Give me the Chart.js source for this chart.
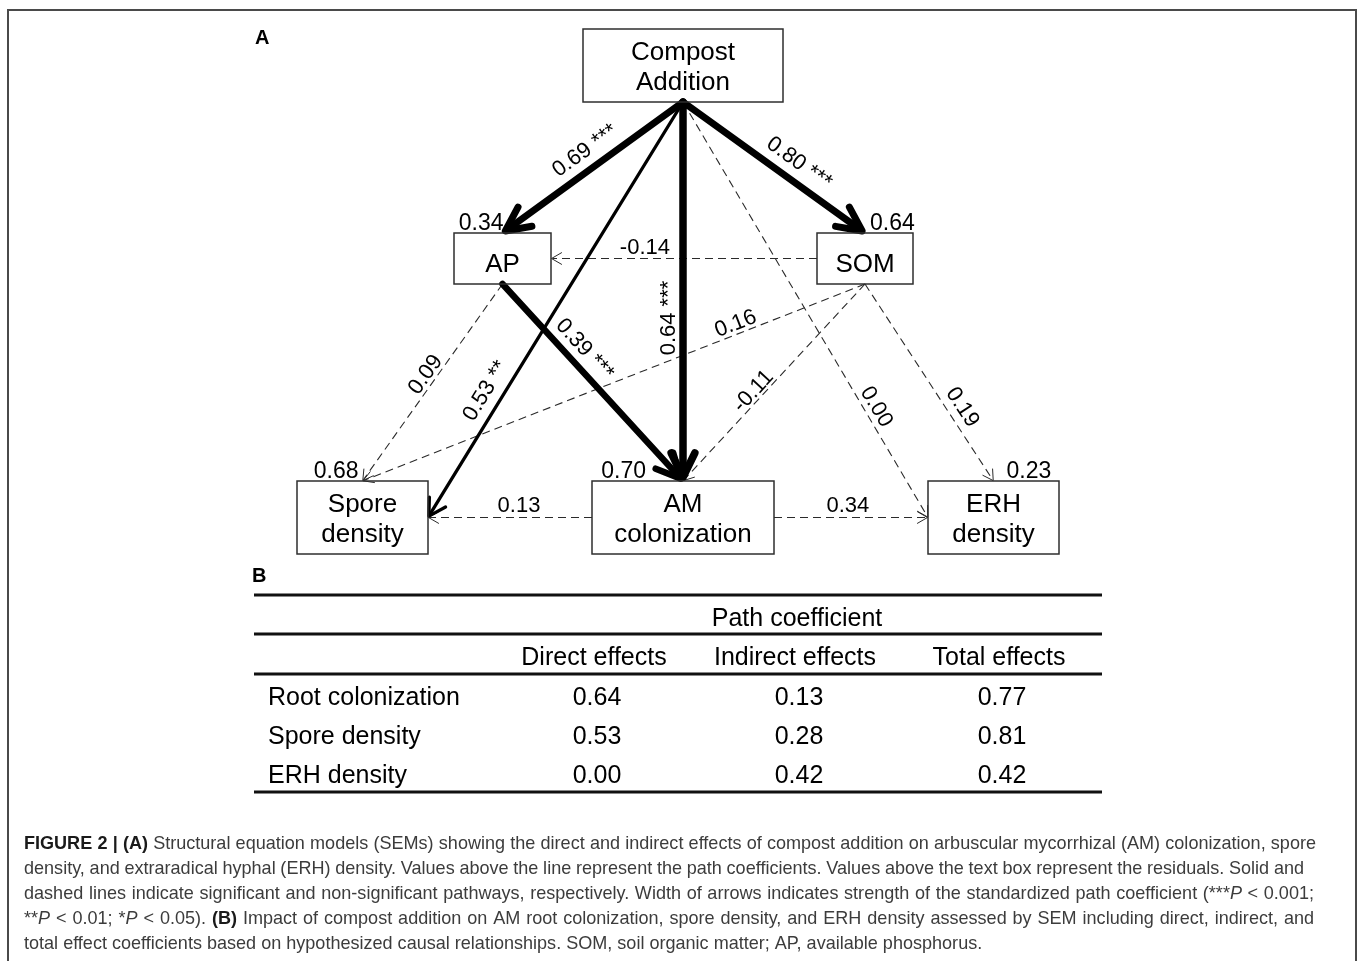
<!DOCTYPE html>
<html>
<head>
<meta charset="utf-8">
<script src="https://cdn.jsdelivr.net/npm/chart.js@4.4.1/dist/chart.umd.min.js"></script>
<style>
  html, body { margin: 0; padding: 0; background: #fff; }
  #wrap { position: relative; width: 1358px; height: 961px; overflow: hidden; }
  canvas { display: block; }
</style>
</head>
<body>
<div id="wrap"><canvas id="c" width="1358" height="961"></canvas></div>
<script>
// ---- Panel A: structural equation model ----
const nodeNames = ['Compost\nAddition', 'AP', 'SOM', 'Spore\ndensity', 'AM\ncolonization', 'ERH\ndensity'];
const nodeResiduals = [null, 0.34, 0.64, 0.68, 0.70, 0.23];

// paths: source node -> target node, standardized coefficient, significance stars
const pathFrom = [0, 0, 0, 0, 0, 2, 1, 1, 2, 2, 2, 4, 4];
const pathTo   = [1, 2, 4, 3, 5, 1, 4, 3, 3, 4, 5, 3, 5];
const pathCoef = [0.69, 0.80, 0.64, 0.53, 0.00, -0.14, 0.39, 0.09, 0.16, -0.11, 0.19, 0.13, 0.34];
const pathSig  = ['***', '***', '***', '**', '', '', '***', '', '', '', '', '', ''];

// ---- Panel B: effect table ----
const effectHeader = 'Path coefficient';
const effectColumns = ['Direct effects', 'Indirect effects', 'Total effects'];
const effectRows = ['Root colonization', 'Spore density', 'ERH density'];
const directEffects = [0.64, 0.53, 0.00];
const indirectEffects = [0.13, 0.28, 0.42];
const totalEffects = [0.77, 0.81, 0.42];

// ---- Layout (diagram units map 1:1 onto the hidden linear scales) ----
const nodeLayout = [
  { x: 683,   y: 65.5,  w: 200, h: 73 },
  { x: 502.5, y: 258.5, w: 97,  h: 51 },
  { x: 865,   y: 258.5, w: 96,  h: 51 },
  { x: 362.5, y: 517.5, w: 131, h: 73 },
  { x: 683,   y: 517.5, w: 182, h: 73 },
  { x: 993.5, y: 517.5, w: 131, h: 73 }
];
const residualLayout = [null,
  { align: 'right', dx: 1 }, { align: 'left', dx: 5 }, { align: 'right', dx: -4 },
  { align: 'right', dx: -37 }, { align: 'left', dx: 13 }];
const pathSides = [
  ['bottom', 'top'], ['bottom', 'top'], ['bottom', 'top'], ['bottom', 'right'], ['bottom', 'left'],
  ['left', 'right'], ['bottom', 'top'], ['bottom', 'top'], ['bottom', 'top'], ['bottom', 'top'],
  ['bottom', 'top'], ['left', 'right'], ['right', 'left']];
// label position: fraction along the path, distance from the line
const labelPlace = [[0.484, 20], [0.58, 20], [0.57, 16], [0.717, 19], [0.748, 13.5], [0.647, 12.5],
  [0.388, 18.3], [0.49, 12], [0.25, 12], [0.576, 11], [0.665, 16], [0.445, 13.5], [0.48, 13.5]];
const pathWidth = [7, 7, 7.5, 3.3, 1.1, 1.1, 6.5, 1.1, 1.1, 1.1, 1.1, 1.1, 1.1];

const captionLines = [
  [['FIGURE 2 | (A)', 'b'], [' Structural equation models (SEMs) showing the direct and indirect effects of compost addition on arbuscular mycorrhizal (AM) colonization, spore', 'n']],
  [['density, and extraradical hyphal (ERH) density. Values above the line represent the path coefficients. Values above the text box represent the residuals. Solid and', 'n']],
  [['dashed lines indicate significant and non-significant pathways, respectively. Width of arrows indicates strength of the standardized path coefficient (***', 'n'], ['P', 'i'], [' < 0.001;', 'n']],
  [['**', 'n'], ['P', 'i'], [' < 0.01; *', 'n'], ['P', 'i'], [' < 0.05). ', 'n'], ['(B)', 'b'], [' Impact of compost addition on AM root colonization, spore density, and ERH density assessed by SEM including direct, indirect, and', 'n']],
  [['total effect coefficients based on hypothesized causal relationships. SOM, soil organic matter; AP, available phosphorus.', 'n']]
];
const captionRight = [1316, 1304, 1314, 1314, null];

const FONT = '"Liberation Sans", Arial, Helvetica, sans-serif';

function anchor(n, side) {
  const b = nodeLayout[n];
  if (side === 'top') return { x: b.x, y: b.y - b.h / 2 };
  if (side === 'bottom') return { x: b.x, y: b.y + b.h / 2 };
  if (side === 'left') return { x: b.x - b.w / 2, y: b.y };
  return { x: b.x + b.w / 2, y: b.y };
}

function drawArrow(ctx, x1, y1, x2, y2, w, dashed) {
  const dx = x2 - x1, dy = y2 - y1, L = Math.hypot(dx, dy);
  const ux = dx / L, uy = dy / L;
  const inset = dashed ? 0.5 : w / 2;
  const tx = x2 - ux * inset, ty = y2 - uy * inset;
  const color = dashed ? '#2a2a2a' : '#000';
  let headLen, headAng;
  if (dashed) { headLen = 12; headAng = 30 * Math.PI / 180; }
  else if (w < 4) { headLen = 19; headAng = 30 * Math.PI / 180; }
  else { headLen = 27; headAng = 26 * Math.PI / 180; }
  ctx.save();
  ctx.strokeStyle = color;
  ctx.lineWidth = w;
  ctx.lineCap = dashed ? 'butt' : 'round';
  ctx.lineJoin = 'round';
  ctx.setLineDash(dashed ? [8, 5] : []);
  ctx.beginPath();
  ctx.moveTo(x1, y1);
  ctx.lineTo(tx - ux * (dashed ? 1 : 2), ty - uy * (dashed ? 1 : 2));
  ctx.stroke();
  ctx.setLineDash([]);
  ctx.lineWidth = dashed ? 1 : w;
  const a = Math.atan2(uy, ux);
  ctx.beginPath();
  ctx.moveTo(tx - headLen * Math.cos(a - headAng), ty - headLen * Math.sin(a - headAng));
  ctx.lineTo(tx, ty);
  ctx.lineTo(tx - headLen * Math.cos(a + headAng), ty - headLen * Math.sin(a + headAng));
  ctx.stroke();
  ctx.restore();
}

function fmt(v) { return v.toFixed(2); }

function drawJustified(ctx, runs, x0, baseline, right, size, squeeze) {
  const fonts = {
    n: size + 'px ' + FONT,
    b: 'bold ' + size + 'px ' + FONT,
    i: 'italic ' + size + 'px ' + FONT
  };
  const items = [];
  runs.forEach(([text, st]) => {
    const parts = text.split(/( )/);
    parts.forEach(p => {
      if (p === '') return;
      if (p === ' ') items.push({ space: true, font: fonts[st] });
      else items.push({ text: p, font: fonts[st] });
    });
  });
  let natural = 0, spaces = 0;
  items.forEach(it => {
    ctx.font = it.font;
    it.w = ctx.measureText(it.space ? ' ' : it.text).width;
    natural += it.w;
    if (it.space) spaces++;
  });
  let extra = 0;
  if (right !== null && spaces > 0) extra = ((right - x0) / squeeze - natural) / spaces;
  ctx.save();
  ctx.translate(x0, baseline);
  ctx.scale(squeeze, 1);
  let x = 0;
  items.forEach(it => {
    if (it.space) { x += it.w + extra; return; }
    ctx.font = it.font;
    ctx.fillStyle = it.font.startsWith('bold') ? '#1a1a1a' : '#3c3c3c';
    ctx.fillText(it.text, x, 0);
    x += it.w;
  });
  ctx.restore();
}

const diagramPlugin = {
  id: 'semDiagram',
  afterDraw(chart) {
    const ctx = chart.ctx;
    const sx = chart.scales.x, sy = chart.scales.y;
    const px = v => sx.getPixelForValue(v);
    const py = v => sy.getPixelForValue(v);

    ctx.save();
    ctx.textBaseline = 'alphabetic';

    // figure frame
    ctx.strokeStyle = '#4a4a4a';
    ctx.lineWidth = 2;
    ctx.strokeRect(px(8), py(10), px(1356) - px(8), py(980) - py(10));

    // panel letters
    ctx.fillStyle = '#000';
    ctx.font = 'bold 20px ' + FONT;
    ctx.textAlign = 'left';
    ctx.fillText('A', px(255), py(44));
    ctx.fillText('B', px(252), py(582));

    // paths: dashed ones first, solid on top
    const order = pathCoef.map((_, i) => i).sort((a, b) => (pathSig[a] ? 1 : 0) - (pathSig[b] ? 1 : 0));
    order.forEach(i => {
      const s = anchor(pathFrom[i], pathSides[i][0]);
      const e = anchor(pathTo[i], pathSides[i][1]);
      drawArrow(ctx, px(s.x), py(s.y), px(e.x), py(e.y), pathWidth[i], pathSig[i] === '');
    });

    // path labels, rotated along each path and set on its upper side
    ctx.font = '22px ' + FONT;
    ctx.fillStyle = '#000';
    pathCoef.forEach((c, i) => {
      const s = anchor(pathFrom[i], pathSides[i][0]);
      const e = anchor(pathTo[i], pathSides[i][1]);
      const x1 = px(s.x), y1 = py(s.y), x2 = px(e.x), y2 = py(e.y);
      let th = Math.atan2(y2 - y1, x2 - x1);
      if (th >= Math.PI / 2 - 1e-6) th -= Math.PI;
      if (th < -Math.PI / 2) th += Math.PI;
      const [t, off] = labelPlace[i];
      const bx = x1 + (x2 - x1) * t, by = y1 + (y2 - y1) * t;
      const cx = bx + Math.sin(th) * off, cy = by - Math.cos(th) * off;
      ctx.save();
      ctx.translate(cx, cy);
      ctx.rotate(th);
      ctx.textAlign = 'center';
      ctx.fillText(fmt(c) + (pathSig[i] ? ' ' + pathSig[i] : ''), 0, 8);
      ctx.restore();
    });

    // boxes with their names and residuals
    nodeLayout.forEach((b, n) => {
      const x0 = px(b.x - b.w / 2), y0 = py(b.y - b.h / 2);
      const x1 = px(b.x + b.w / 2), y1 = py(b.y + b.h / 2);
      ctx.strokeStyle = '#2e2e2e';
      ctx.lineWidth = 1.5;
      ctx.strokeRect(x0, y0, x1 - x0, y1 - y0);
      const lines = nodeNames[n].split('\n');
      ctx.font = '26px ' + FONT;
      ctx.fillStyle = '#000';
      ctx.textAlign = 'center';
      lines.forEach((ln, k) => {
        const vc = lines.length === 1 ? b.y + 4 : b.y + (k - 0.5) * 30;
        ctx.fillText(ln, px(b.x), py(vc + 9.3));
      });
      if (nodeResiduals[n] !== null) {
        const r = residualLayout[n];
        ctx.font = '23px ' + FONT;
        ctx.textAlign = r.align;
        ctx.fillText(fmt(nodeResiduals[n]), px(b.x + r.dx), py(b.y - b.h / 2 - 3));
      }
    });

    // table B
    const ruleX0 = px(254), ruleX1 = px(1102);
    ctx.strokeStyle = '#111';
    ctx.lineWidth = 3;
    [595, 634, 674, 792].forEach(y => {
      ctx.beginPath();
      ctx.moveTo(ruleX0, py(y));
      ctx.lineTo(ruleX1, py(y));
      ctx.stroke();
    });
    ctx.fillStyle = '#000';
    ctx.font = '25px ' + FONT;
    ctx.textAlign = 'center';
    ctx.fillText(effectHeader, px(797), py(626));
    const headX = [594, 795, 999];
    const valX = [597, 799, 1002];
    effectColumns.forEach((h, k) => ctx.fillText(h, px(headX[k]), py(665)));
    const cols = [directEffects, indirectEffects, totalEffects];
    effectRows.forEach((r, j) => {
      const base = py(705 + j * 39);
      ctx.textAlign = 'left';
      ctx.fillText(r, px(268), base);
      ctx.textAlign = 'center';
      cols.forEach((col, k) => ctx.fillText(fmt(col[j]), px(valX[k]), base));
    });

    // caption
    ctx.textAlign = 'left';
    captionLines.forEach((runs, k) => {
      drawJustified(ctx, runs, px(24), py(849 + k * 25), captionRight[k] === null ? null : px(captionRight[k]), 19, 0.95);
    });

    ctx.restore();
  }
};

new Chart(document.getElementById('c'), {
  type: 'scatter',
  data: {
    datasets: [{
      data: nodeLayout.map(b => ({ x: b.x, y: b.y })),
      pointRadius: 0,
      pointHoverRadius: 0
    }]
  },
  options: {
    responsive: false,
    animation: false,
    devicePixelRatio: 1,
    events: [],
    layout: { padding: 0 },
    plugins: { legend: { display: false }, tooltip: { enabled: false } },
    scales: {
      x: { type: 'linear', min: 0, max: 1358, display: false },
      y: { type: 'linear', min: 0, max: 961, reverse: true, display: false }
    }
  },
  plugins: [diagramPlugin]
});
</script>
</body>
</html>
